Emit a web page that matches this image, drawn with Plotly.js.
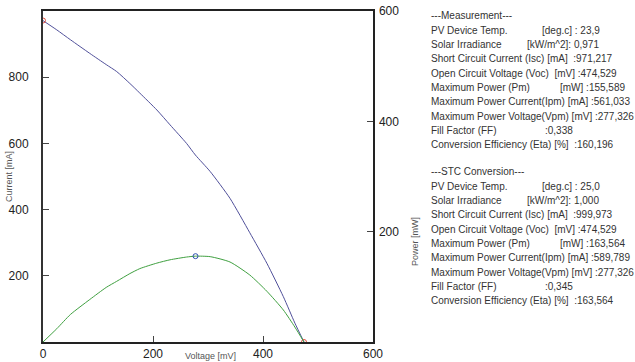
<!DOCTYPE html>
<html>
<head>
<meta charset="utf-8">
<script src="https://cdn.plot.ly/plotly-3.0.1.min.js"></script>
<style>html,body{margin:0;padding:0;background:#fff;}#chart{width:635px;height:362px;}</style>
</head>
<body>
<div id="chart"></div>
<script>
// Voltage [mV] sample points
const voltage = [0, 25, 50, 85, 115, 134, 158, 176, 207, 231, 261, 277, 304, 340, 376, 407, 437, 458, 474.5];
// Current [mA] (I-V curve, left axis)
const current = [971, 943, 913, 872, 838, 817, 781, 752, 701, 656, 600, 565, 515, 434, 330, 238, 137, 57, 0];
// Power [mW] (P-V curve, right axis)
const power = [0, 24, 50, 77, 99, 110, 124, 133, 143, 149, 154, 155.6, 154.7, 145, 121.4, 92, 58, 27, 0];

// Key points
const iscPoint = {v: 0, i: 971.217};
const vocPoint = {v: 474.529, i: 0};
const pmPoint = {v: 277.326, p: 155.589};

const xTicks = [0, 200, 400, 600];
const yTicks = [200, 400, 600, 800];
const y2Ticks = [200, 400, 600];

// Text panel
const measurementLines = [
  ["---Measurement---", ""],
  ["PV Device Temp.", "[deg.c] : 23,9"],
  ["Solar Irradiance", "[kW/m^2]: 0,971"],
  ["Short Circuit Current (Isc) [mA]  :971,217", ""],
  ["Open Circuit Voltage (Voc)  [mV] :474,529", ""],
  ["Maximum Power (Pm)", "[mW] :155,589"],
  ["Maximum Power Current(Ipm) [mA] :561,033", ""],
  ["Maximum Power Voltage(Vpm) [mV] :277,326", ""],
  ["Fill Factor (FF)", ":0,338"],
  ["Conversion Efficiency (Eta) [%]  :160,196", ""]
];
const stcLines = [
  ["---STC Conversion---", ""],
  ["PV Device Temp.", "[deg.c] : 25,0"],
  ["Solar Irradiance", "[kW/m^2]: 1,000"],
  ["Short Circuit Current (Isc) [mA]  :999,973", ""],
  ["Open Circuit Voltage (Voc)  [mV] :474,529", ""],
  ["Maximum Power (Pm)", "[mW] :163,564"],
  ["Maximum Power Current(Ipm) [mA] :589,789", ""],
  ["Maximum Power Voltage(Vpm) [mV] :277,326", ""],
  ["Fill Factor (FF)", ":0,345"],
  ["Conversion Efficiency (Eta) [%]  :163,564", ""]
];
const secondColX = {"[deg.c]": 540, "[kW/m^2]": 525, "[mW]": 558, ":0,": 543};

const W = 635, H = 362;
const PL = 43, PR = 373, PT = 11, PB = 342;
const px2x = px => (px - PL) / (PR - PL);
const py2y = py => (PB - py) / (PB - PT);

const txtFont = {family: "Liberation Sans, Arial, sans-serif", size: 10, color: "#333"};
const nb = s => s.replace(/ {2,}/g, m => "\u00a0".repeat(m.length));

const annotations = [];
function addLines(lines, y0, dy) {
  lines.forEach((ln, k) => {
    const y = y0 + k * dy;
    annotations.push({xref: "paper", yref: "paper", x: px2x(429), y: py2y(y),
      xanchor: "left", yanchor: "middle", showarrow: false, text: nb(ln[0]), font: txtFont});
    if (ln[1]) {
      let px = 540;
      for (const key in secondColX) { if (ln[1].startsWith(key)) px = secondColX[key]; }
      annotations.push({xref: "paper", yref: "paper", x: px2x(px), y: py2y(y),
        xanchor: "left", yanchor: "middle", showarrow: false, text: nb(ln[1]), font: txtFont});
    }
  });
}
addLines(measurementLines, 16, 14.3);
addLines(stcLines, 172, 14.3);

// axis titles
const titleFont = {family: "Liberation Sans, Arial, sans-serif", size: 9, color: "#555"};
annotations.push({xref: "paper", yref: "paper", x: px2x(9), y: py2y(177), textangle: -90,
  xanchor: "center", yanchor: "middle", showarrow: false, text: "Current [mA]", font: titleFont});
annotations.push({xref: "paper", yref: "paper", x: px2x(210), y: py2y(356), xanchor: "center", yanchor: "middle",
  showarrow: false, text: "Voltage [mV]", font: titleFont});
annotations.push({xref: "paper", yref: "paper", x: px2x(415), y: py2y(242), textangle: -90,
  xanchor: "center", yanchor: "middle", showarrow: false, text: "Power [mW]", font: titleFont});

const tickFont = {family: "Liberation Sans, Arial, sans-serif", size: 12, color: "#222"};

const traces = [
  {x: voltage, y: current, type: "scatter", mode: "lines", line: {color: "#50509a", width: 1, shape: "spline", smoothing: 0.6}, hoverinfo: "skip"},
  {x: voltage, y: power, type: "scatter", mode: "lines", yaxis: "y2", line: {color: "#3fa040", width: 1, shape: "spline", smoothing: 0.6}, hoverinfo: "skip"},
  {x: [iscPoint.v, vocPoint.v], y: [iscPoint.i, vocPoint.i], type: "scatter", mode: "markers",
    marker: {symbol: "circle-open", size: 5, color: "#e05040", line: {width: 1}}},
  {x: [pmPoint.v], y: [pmPoint.p], type: "scatter", mode: "markers", yaxis: "y2",
    marker: {symbol: "circle-open", size: 5, color: "#3050b0", line: {width: 1}}}
];

const layout = {
  width: W, height: H,
  margin: {l: PL, r: W - PR, t: PT, b: H - PB, pad: 0},
  paper_bgcolor: "#fff", plot_bgcolor: "#fff",
  showlegend: false,
  xaxis: {range: [0, 600], tickvals: xTicks, ticktext: xTicks.map(String), showgrid: false, zeroline: false,
    showline: true, linecolor: "#222", linewidth: 2, mirror: true,
    ticks: "inside", ticklen: 6, tickcolor: "#444", tickfont: tickFont, ticklabelstandoff: 0},
  yaxis: {range: [0, 1000], tickvals: yTicks, ticktext: yTicks.map(String), showgrid: false, zeroline: false,
    showline: true, linecolor: "#333", linewidth: 2,
    ticks: "inside", ticklen: 6, tickcolor: "#444", tickfont: tickFont, ticklabelstandoff: 10},
  yaxis2: {range: [0, 600], overlaying: "y", side: "right", tickvals: y2Ticks, ticktext: y2Ticks.map(String),
    showgrid: false, zeroline: false, showline: true, linecolor: "#222", linewidth: 1.5,
    ticks: "inside", ticklen: 6, tickcolor: "#444", tickfont: tickFont, ticklabelstandoff: 2},
  annotations: annotations
};

Plotly.newPlot("chart", traces, layout, {staticPlot: true, displayModeBar: false});
</script>
</body>
</html>
